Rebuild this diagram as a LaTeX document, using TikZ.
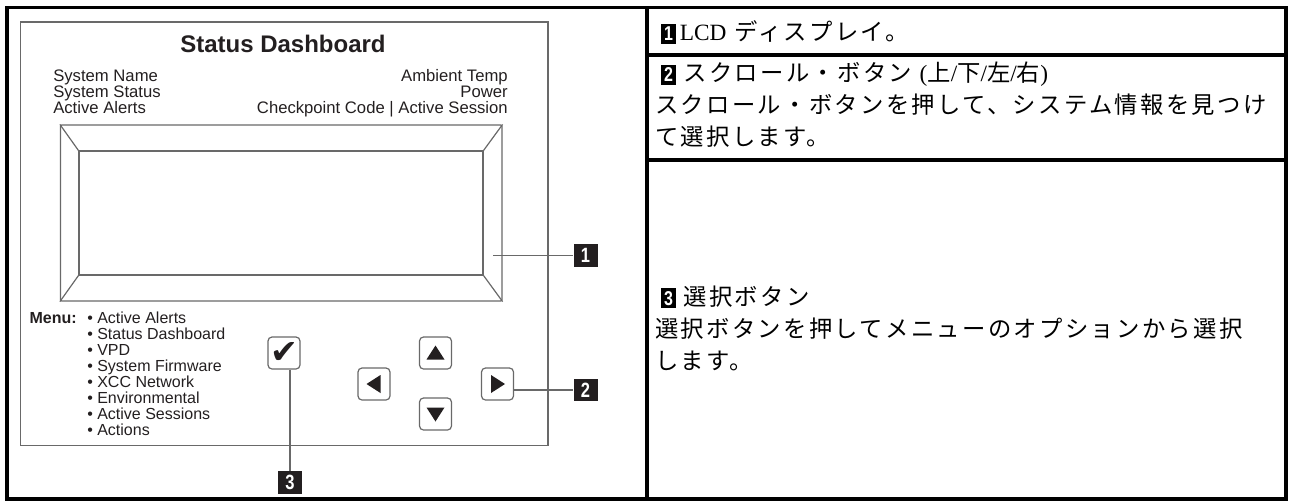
\documentclass[tikz,border=0pt]{standalone}
\usepackage{fontspec}
\setmainfont{Liberation Sans}
\newfontfamily\latinserif{Liberation Serif}
\newfontfamily\jpfont{Noto Sans CJK JP}[LetterSpace=10]
\newfontfamily\symfont{DejaVu Sans}
\newfontfamily\tagfont{Liberation Sans}[FakeStretch=0.8]
\usetikzlibrary{positioning,calc,fit}

\definecolor{ink}{RGB}{35,31,32}
\definecolor{panelgray}{RGB}{105,105,105}

% small black number box used inside the description cells
\newcommand{\tagbox}[1]{{\setlength{\fboxsep}{0pt}\colorbox{black}{\makebox[11pt]{\rule[-2.5pt]{0pt}{15pt}\textcolor{white}{\tagfont\bfseries\fontsize{15}{15}\selectfont #1}}}}}
\newcommand{\lat}[1]{{\latinserif\fontsize{17.5}{24}\selectfont #1}}

\begin{document}
\begin{tikzpicture}[x=0.75pt, y=-0.75pt,
  frame/.style={line width=2.6pt, black},
  panel/.style={draw=panelgray, line width=0.9pt, inner sep=0pt},
  btn/.style={draw=panelgray, line width=0.9pt, rounded corners=3pt, minimum size=24pt, inner sep=0pt},
  callout/.style={fill=ink, text=white, font=\tagfont\bfseries\fontsize{15.5}{15.5}\selectfont, minimum width=18pt, minimum height=17pt, inner sep=0pt},
  leader/.style={panelgray, line width=0.9pt},
  info/.style={font=\fontsize{12.5}{12.5}\selectfont, text=ink, inner sep=0pt},
  item/.style={font=\fontsize{12}{12}\selectfont, text=ink, inner sep=0pt, anchor=base west},
  cell/.style={font=\jpfont\fontsize{17.5}{24}\selectfont, align=left, anchor=west, inner sep=0pt}]

\useasboundingbox (0,0) rectangle (1291,501);

% Outer table
\draw[frame] (7,7.5) rectangle (1286,499);
\draw[frame] (647,7.5) -- (647,499);
\draw[frame] (647,55) -- (1286,55);
\draw[frame] (647,160) -- (1286,160);

% Status panel
\node[panel, fit={(20.5,22) (548,445.5)}] (panel) {};
\node[font=\bfseries\fontsize{18}{18}\selectfont, text=ink, anchor=base] (title) at (283,52) {Status Dashboard};
\foreach \t [count=\i] in {System Name, System Status, Active Alerts}
  \node[info, anchor=base west] (info-l\i) at (53, 65+16*\i) {\t};
\foreach \t [count=\i] in {Ambient Temp, Power, Checkpoint Code | Active Session}
  \node[info, anchor=base east] (info-r\i) at (508, 65+16*\i) {\t};

% LCD screen with bevel
\node[panel, rounded corners=1pt, fit={(60.5,125) (502,301)}] (lcd-out) {};
\node[panel, fit={(79,151) (483,275)}] (lcd-in) {};
\foreach \c in {north west, north east, south west, south east}
  \draw[leader] (lcd-out.\c) -- (lcd-in.\c);

% Menu list
\node[font=\bfseries\fontsize{12}{12}\selectfont, text=ink, inner sep=0pt, anchor=base east] (menu) at (77,323) {Menu:};
\foreach \t [count=\i] in {Active Alerts, Status Dashboard, VPD, System Firmware, XCC Network, Environmental, Active Sessions, Actions}
  \node[item] (item-\i) at (87, 307+16*\i) {• \t};

% Buttons
\node[btn, font=\symfont\fontsize{25}{25}\selectfont, text=ink] (check) at (284,353) {✔};
\foreach \b/\x/\y in {up/435.5/353, down/435.5/414, left/374/384, right/497.5/384}
  \node[btn] (\b) at (\x,\y) {};
\fill[ink] (up.center) ++(0,-7.5) -- ++(9,14) -- ++(-18,0) -- cycle;
\fill[ink] (down.center) ++(0,7.5) -- ++(9,-14) -- ++(-18,0) -- cycle;
\fill[ink] (left.center) ++(-7.5,0) -- ++(14,-9) -- ++(0,18) -- cycle;
\fill[ink] (right.center) ++(7.5,0) -- ++(-14,-9) -- ++(0,18) -- cycle;

% Callouts
\node[callout] (c1) at (585.5,255.5) {1};
\node[callout] (c2) at (585.5,390) {2};
\node[callout] (c3) at (290,482.5) {3};
\coordinate (lcd-pt) at (493,255.5);
\draw[leader] (lcd-pt) -- (c1.west);
\draw[leader] (c2.west -| right.east) -- (c2.west);
\draw[leader] (c3.north |- check.south) -- (c3.north);

% Descriptions
\node[cell] (desc-1) at (655,32) {\hspace*{4.5pt}\tagbox{1}\,\lat{LCD} ディスプレイ。};
\node[cell] (desc-2) at (655,104.5) {\hspace*{4.5pt}\tagbox{2} スクロール・ボタン \lat{(}上\lat{/}下\lat{/}左\lat{/}右\lat{)}\\
  スクロール・ボタンを押して、システム情報を見つけ\\
  て選択します。};
\node[cell] (desc-3) at (655,328) {\hspace*{4.5pt}\tagbox{3} 選択ボタン\\
  選択ボタンを押してメニューのオプションから選択\\
  します。};
\end{tikzpicture}
\end{document}
